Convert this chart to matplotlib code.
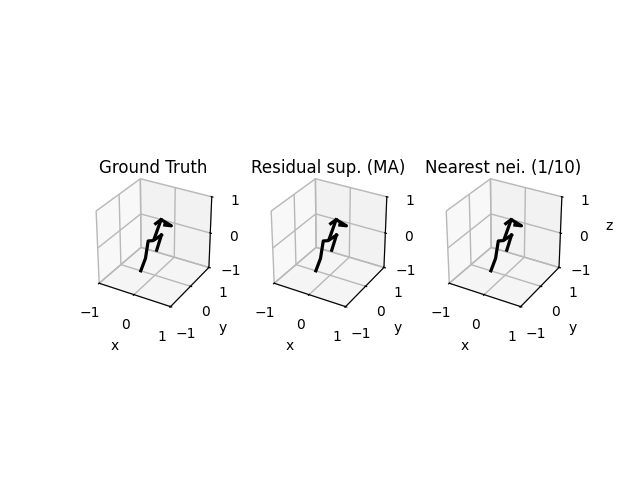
import numpy as np
from matplotlib import pyplot as plt

TITLES = ["Ground Truth", "Residual sup. (MA)", "Nearest nei. (1/10)"]
TICKS = [-1, 0, 1]

# skeleton chains (all in the y=0 plane)
LEG_X = [-0.41, -0.27, -0.19, -0.05, 0.18]
LEG_Z = [-1.0, -0.59, -0.07, -0.02, 0.2]
OTHER_LEG_X = [0.05, 0.18]
OTHER_LEG_Z = [-0.26, 0.2]
SPINE_X = [-0.02, 0.17]
SPINE_Z = [0.04, 0.62]
ARM_X = [0.02, 0.17, 0.45, 0.27]
ARM_Z = [0.47, 0.62, 0.53, 0.5]

plt.rcParams["grid.linewidth"] = 1.0
plt.rcParams["grid.color"] = "#b8b8b8"

fig = plt.figure(figsize=(6.4, 4.8))
for i, title in enumerate(TITLES):
    ax = fig.add_subplot(1, 3, i + 1, projection="3d")
    ax.set_box_aspect((1, 1, 1), zoom=0.95)
    for xs, zs in [(LEG_X, LEG_Z), (OTHER_LEG_X, OTHER_LEG_Z), (SPINE_X, SPINE_Z), (ARM_X, ARM_Z)]:
        ax.plot(xs, np.zeros(len(xs)), zs, color="black", lw=2.3)
    ax.set_xlim(-1, 1)
    ax.set_ylim(-1, 1)
    ax.set_zlim(-1, 1)
    ax.set_xticks(TICKS)
    ax.set_yticks(TICKS)
    ax.set_zticks(TICKS)
    ax.set_xlabel("x")
    ax.set_ylabel("y")
    if i == 2:
        ax.set_zlabel("z")
    ax.set_title(title, y=1.058, pad=0)
fig.savefig("out.png", dpi=100)
